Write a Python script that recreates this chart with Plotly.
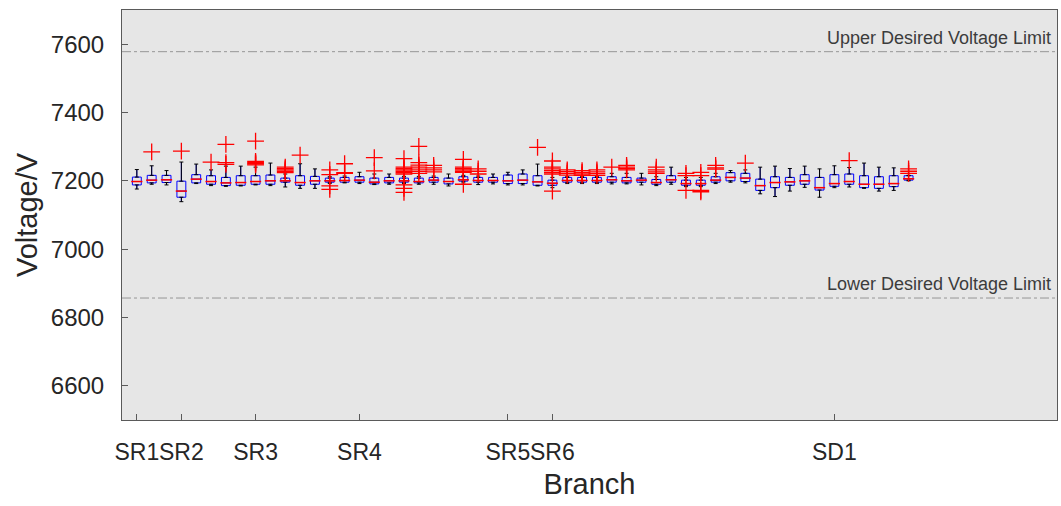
import plotly.graph_objects as go

# ---- data ----
positions = list(range(1, 54))
tick_positions = [1, 4, 9, 16, 26, 29, 48]
tick_labels = ["SR1", "SR2", "SR3", "SR4", "SR5", "SR6", "SD1"]

lower_whisker = [7176, 7190, 7188, 7139, 7192, 7186, 7184, 7185, 7188, 7186,
                 7182, 7178, 7178, 7192, 7194, 7192, 7189, 7190, 7192, 7190,
                 7190, 7185, 7194, 7189, 7191, 7188, 7188, 7185, 7180, 7192,
                 7192, 7192, 7191, 7191, 7188, 7186, 7190, 7183, 7183, 7192,
                 7196, 7194, 7162, 7154, 7170, 7181, 7152, 7180, 7182, 7178,
                 7170, 7172, 7200]
q1 = [7188, 7194, 7195, 7152, 7194, 7190, 7186, 7187, 7190, 7190,
      7196, 7187, 7190, 7196, 7196, 7196, 7191, 7194, 7196, 7194,
      7196, 7191, 7199, 7196, 7196, 7192, 7192, 7187, 7187, 7196,
      7196, 7196, 7196, 7194, 7196, 7190, 7196, 7187, 7187, 7196,
      7200, 7198, 7172, 7180, 7187, 7190, 7173, 7184, 7190, 7180,
      7178, 7183, 7202]
median = [7198, 7202, 7203, 7170, 7205, 7198, 7194, 7195, 7198, 7200,
          7200, 7195, 7200, 7200, 7201, 7202, 7196, 7200, 7200, 7198,
          7202, 7198, 7203, 7201, 7201, 7200, 7202, 7197, 7193, 7201,
          7201, 7201, 7203, 7200, 7202, 7195, 7203, 7192, 7192, 7202,
          7210, 7208, 7186, 7195, 7197, 7200, 7180, 7192, 7198, 7190,
          7190, 7192, 7206]
q3 = [7211, 7216, 7216, 7199, 7218, 7215, 7210, 7215, 7215, 7217,
      7208, 7215, 7213, 7208, 7210, 7212, 7208, 7210, 7208, 7208,
      7210, 7208, 7212, 7210, 7210, 7217, 7220, 7215, 7202, 7210,
      7210, 7210, 7212, 7210, 7208, 7204, 7215, 7202, 7202, 7212,
      7224, 7222, 7205, 7212, 7210, 7218, 7210, 7218, 7220, 7215,
      7212, 7215, 7215]
upper_whisker = [7233, 7244, 7230, 7255, 7249, 7232, 7243, 7243, 7240, 7252,
                 7220, 7250, 7235, 7212, 7214, 7225, 7220, 7220, 7213, 7213,
                 7214, 7220, 7216, 7214, 7220, 7225, 7232, 7249, 7210, 7212,
                 7212, 7212, 7222, 7222, 7222, 7212, 7240, 7210, 7210, 7222,
                 7230, 7232, 7240, 7243, 7236, 7243, 7235, 7244, 7239, 7252,
                 7240, 7238, 7216]
outliers = [
    [], [7285], [], [7287], [], [7255], [7307, 7253, 7248], [],
    [7316, 7257, 7253, 7250, 7247], [],
    [7240, 7236, 7232, 7228, 7224], [7275], [],
    [7232, 7218, 7185, 7175], [7250, 7224, 7222], [], [7268, 7229], [],
    [7265, 7240, 7236, 7232, 7228, 7224, 7220, 7188, 7178, 7166],
    [7301, 7253, 7246, 7240, 7234, 7228, 7222],
    [7245, 7238, 7232, 7226], [],
    [7263, 7240, 7236, 7232, 7228, 7225, 7190],
    [7235, 7228, 7220], [], [], [], [7298],
    [7258, 7240, 7235, 7230, 7225, 7220, 7170],
    [7232, 7227, 7222, 7217], [7230, 7225, 7220, 7216], [7232, 7226, 7221, 7216],
    [7240], [7245, 7240, 7236, 7232], [], [7240, 7232, 7226, 7222], [],
    [7222, 7215, 7172], [7225, 7215, 7172, 7168], [7245, 7238, 7234], [],
    [7252], [], [], [], [], [], [], [7259], [], [], [], [7235, 7228, 7222],
]
upper_limit = 7578
lower_limit = 6857

FONT = "Liberation Sans, Arial, sans-serif"
TXT = "rgb(38,38,38)"

fig = go.Figure()

fig.add_trace(go.Box(
    x=positions, q1=q1, median=median, q3=q3,
    lowerfence=lower_whisker, upperfence=upper_whisker,
    width=0.6, whiskerwidth=0,
    line=dict(color="rgb(0,0,255)", width=1),
    fillcolor="rgba(0,0,0,0)", boxpoints=False, showlegend=False,
    hoverinfo="skip",
))

# black whiskers drawn over the box whiskers
fig.add_trace(go.Scatter(
    x=positions, y=q3, mode="markers", marker=dict(opacity=0, size=1),
    error_y=dict(type="data", symmetric=False,
                 array=[h - q for h, q in zip(upper_whisker, q3)],
                 arrayminus=[0] * len(q3), color="black", thickness=1, width=2),
    showlegend=False, hoverinfo="skip",
))
fig.add_trace(go.Scatter(
    x=positions, y=q1, mode="markers", marker=dict(opacity=0, size=1),
    error_y=dict(type="data", symmetric=False,
                 array=[0] * len(q1),
                 arrayminus=[q - l for l, q in zip(lower_whisker, q1)],
                 color="black", thickness=1, width=2),
    showlegend=False, hoverinfo="skip",
))

# red medians
fig.add_trace(go.Scatter(
    x=positions, y=median, mode="markers",
    marker=dict(symbol="line-ew", size=8, line=dict(color="rgb(255,0,0)", width=1.5)),
    showlegend=False, hoverinfo="skip",
))

# outliers
ox, oy = [], []
for p, outs in zip(positions, outliers):
    for v in outs:
        ox.append(p)
        oy.append(v)
fig.add_trace(go.Scatter(
    x=ox, y=oy, mode="markers",
    marker=dict(symbol="cross-thin", size=12, line=dict(color="rgb(255,0,0)", width=1.3)),
    showlegend=False, hoverinfo="skip",
))

# desired voltage limit lines
for val in (upper_limit, lower_limit):
    fig.add_shape(type="line", xref="paper", x0=0, x1=1, yref="y", y0=val, y1=val,
                  line=dict(color="rgb(150,150,150)", width=1, dash="dashdot"))

for txt, val in (("Upper Desired Voltage Limit", upper_limit),
                 ("Lower Desired Voltage Limit", lower_limit)):
    fig.add_annotation(text=txt, xref="paper", x=0.996, xanchor="right",
                       yref="y", y=val, yanchor="bottom", yshift=2, showarrow=False,
                       font=dict(family=FONT, size=18, color="rgb(60,60,60)"))

fig.update_layout(
    width=1061, height=506,
    margin=dict(l=122, r=4, t=10, b=86),
    paper_bgcolor="white", plot_bgcolor="rgb(230,230,230)",
    font=dict(family=FONT, color=TXT),
    showlegend=False,
)
fig.update_xaxes(
    range=[0, 63], tickmode="array", tickvals=tick_positions, ticktext=tick_labels,
    tickangle=0,
    ticks="inside", ticklen=6, tickcolor="rgb(90,90,90)",
    showgrid=False, zeroline=False, showline=True, mirror=True,
    linecolor="rgb(90,90,90)", linewidth=1,
    tickfont=dict(size=23, color=TXT), ticklabelstandoff=11,
    title=dict(text="Branch", font=dict(size=29, color=TXT), standoff=10),
)
fig.update_yaxes(
    range=[6500, 7700], tickvals=[6600, 6800, 7000, 7200, 7400, 7600],
    ticks="inside", ticklen=6, tickcolor="rgb(90,90,90)",
    showgrid=False, zeroline=False, showline=True, mirror=True,
    linecolor="rgb(90,90,90)", linewidth=1,
    tickfont=dict(size=24, color=TXT), ticklabelstandoff=12,
    title=dict(text="Voltage/V", font=dict(size=29, color=TXT), standoff=4),
)

fig.write_html("out.html")
